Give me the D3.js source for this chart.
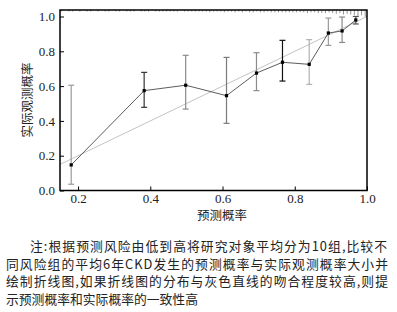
<!DOCTYPE html>
<html><head><meta charset="utf-8">
<script src="https://cdn.jsdelivr.net/npm/d3@7"></script>
<style>
html,body{margin:0;padding:0;background:#fff;}
svg{display:block;}
</style></head>
<body>
<svg id="chart" width="397" height="312"></svg>
<script>
// ---- data ----
const predicted = [0.181, 0.383, 0.498, 0.611, 0.694, 0.766, 0.840, 0.893, 0.931, 0.969];
const observed  = [0.147, 0.574, 0.605, 0.545, 0.675, 0.737, 0.725, 0.905, 0.917, 0.980];
const ciLower   = [0.036, 0.478, 0.468, 0.386, 0.574, 0.629, 0.610, 0.834, 0.851, 0.957];
const ciUpper   = [0.605, 0.679, 0.777, 0.765, 0.792, 0.863, 0.867, 0.991, 0.997, 1.000];
const barShade  = ["#9a9a9a", "#333333", "#8a8a8a", "#7a7a7a", "#8c8c8c", "#111111", "#b0b0b0", "#9a9a9a", "#8a8a8a", "#555555"];
const xTicks = [0.2, 0.4, 0.6, 0.8, 1.0];
const yTicks = [0.0, 0.2, 0.4, 0.6, 0.8, 1.0];
// spike distribution of predicted risk along the top (bins of 0.01 from 0.155)
const riskBinStart = 0.155;
const riskCounts = [1,0,1,1,0,1,0,1,1,0, 1,0,1,1,0,1,1,0,1,1, 1,0,1,1,1,0,1,1,1,1, 1,1,1,0,1,1,1,1,1,1,
                    1,2,1,1,1,2,1,1,2,1, 2,1,2,2,1,2,2,1,2,2, 2,2,2,2,2,2,2,2,3,2, 2,3,3,3,2,3,4,3,5,4,
                    5,6,7,6,8];
const xLabel = "预测概率";
const yLabel = "实际观测概率";
const caption = [
  "注:根据预测风险由低到高将研究对象平均分为10组,比较不",
  "同风险组的平均6年CKD发生的预测概率与实际观测概率大小并",
  "绘制折线图,如果折线图的分布与灰色直线的吻合程度较高,则提",
  "示预测概率和实际概率的一致性高"
];

// ---- chart ----
const svg = d3.select("#chart");
const L = 60, R = 367, T = 10, B = 190.5;
const x = d3.scaleLinear().domain([0.15, 1.0]).range([L, R]);
const y = d3.scaleLinear().domain([0, 1.0374]).range([B, T]);
const serif = "'Liberation Serif','Times New Roman',serif";
const cjk = "'Noto Sans CJK SC','Noto Sans CJK JP',sans-serif";

// diagonal
svg.append("line")
  .attr("x1", x(0.15)).attr("y1", y(0.15))
  .attr("x2", x(1.0)).attr("y2", y(1.0))
  .attr("stroke", "#c4c4c4").attr("stroke-width", 1);

// spikes
const spikes = riskCounts.map((c, i) => ({p: riskBinStart + i * 0.01, c}));
const hScale = d3.scaleLinear().domain([0, 8]).range([0, 6]);
svg.append("g").selectAll("line").data(spikes.filter(d => d.c > 0)).join("line")
  .attr("x1", d => x(d.p)).attr("x2", d => x(d.p))
  .attr("y1", T).attr("y2", d => T + 0.8 + hScale(d.c))
  .attr("stroke", "#666").attr("stroke-width", 0.7);

// error bars
const pts = predicted.map((p, i) => ({p, o: observed[i], lo: ciLower[i], hi: ciUpper[i], c: barShade[i]}));
const eb = svg.append("g");
pts.forEach(d => {
  const g = eb.append("g").attr("stroke", d.c).attr("stroke-width", 1.2);
  g.append("line").attr("x1", x(d.p)).attr("x2", x(d.p)).attr("y1", y(d.lo)).attr("y2", y(d.hi));
  g.append("line").attr("x1", x(d.p) - 3).attr("x2", x(d.p) + 3).attr("y1", y(d.lo)).attr("y2", y(d.lo));
  g.append("line").attr("x1", x(d.p) - 3).attr("x2", x(d.p) + 3).attr("y1", y(d.hi)).attr("y2", y(d.hi));
});

// connecting line
svg.append("path").datum(pts)
  .attr("d", d3.line().x(d => x(d.p)).y(d => y(d.o)))
  .attr("fill", "none").attr("stroke", "#4a4a4a").attr("stroke-width", 0.9);

// points
svg.append("g").selectAll("rect").data(pts).join("rect")
  .attr("x", d => x(d.p) - 1.6).attr("y", d => y(d.o) - 1.6)
  .attr("width", 3.2).attr("height", 3.2).attr("fill", "#000");

// frame
svg.append("rect").attr("x", L).attr("y", T).attr("width", R - L).attr("height", B - T)
  .attr("fill", "none").attr("stroke", "#000").attr("stroke-width", 1.5);

// axes
const xAxis = svg.append("g").attr("transform", `translate(0,${B})`)
  .call(d3.axisBottom(x).tickValues(xTicks).tickFormat(d3.format(".1f")).tickSizeInner(-4).tickSizeOuter(0).tickPadding(3));
const yAxis = svg.append("g").attr("transform", `translate(${L},0)`)
  .call(d3.axisLeft(y).tickValues(yTicks).tickFormat(d3.format(".1f")).tickSizeInner(-4).tickSizeOuter(0).tickPadding(5));
[xAxis, yAxis].forEach(a => {
  a.select(".domain").remove();
  a.selectAll(".tick line").attr("stroke", "#000").attr("stroke-width", 1);
  a.selectAll(".tick text").attr("font-family", serif).attr("font-size", 13).attr("fill", "#222");
});

// axis labels
svg.append("text").attr("x", 222).attr("y", 220).attr("text-anchor", "middle")
  .attr("font-family", cjk).attr("font-size", 12.5).attr("fill", "#222").text(xLabel);
svg.append("text").attr("transform", "translate(32,100) rotate(-90)").attr("text-anchor", "middle")
  .attr("font-family", cjk).attr("font-size", 12.5).attr("fill", "#222").text(yLabel);

// caption
const capX = [30, 6, 6, 6];
const capW = [357, 382, 382, null];
caption.forEach((line, i) => {
  const t = svg.append("text").attr("x", capX[i]).attr("y", 251 + i * 17.7)
    .attr("font-family", cjk).attr("font-size", 12.8).attr("fill", "#222").text(line);
  if (capW[i]) t.attr("textLength", capW[i]).attr("lengthAdjust", "spacing");
});
</script>
</body></html>
